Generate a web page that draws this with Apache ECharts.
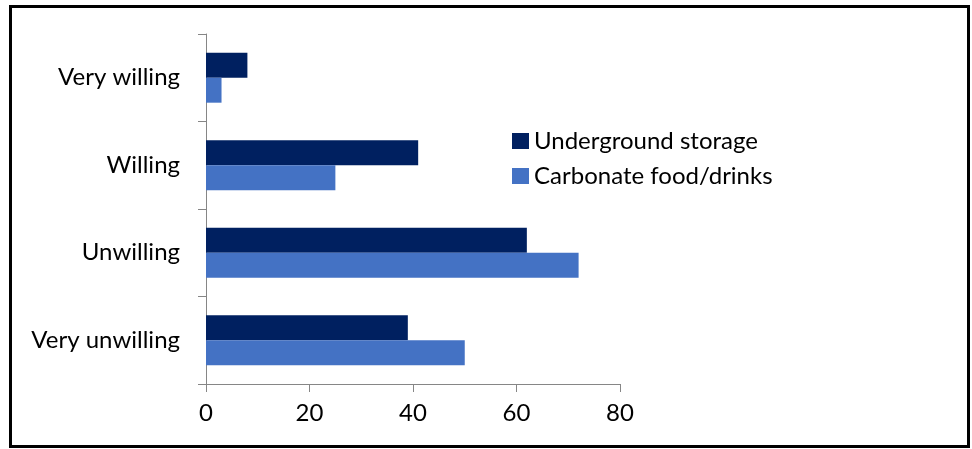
<!DOCTYPE html>
<html>
<head>
<meta charset="utf-8">
<script src="https://cdn.jsdelivr.net/npm/echarts@6/dist/echarts.min.js"></script>
<style>
  html, body { margin: 0; padding: 0; background: #fff; }
  #frame { position: absolute; left: 9px; top: 5px; width: 955px; height: 437px; border: 3px solid #000; }
  #chart { position: absolute; left: 0; top: 0; width: 972px; height: 449px; }
</style>
</head>
<body>
<div id="frame"></div>
<div id="chart"></div>
<script>
// willingness categories, top to bottom
const categories = ['Very willing', 'Willing', 'Unwilling', 'Very unwilling']
const undergroundStorage = [8, 41, 62, 39]
const carbonateFood = [3, 25, 72, 50]
const xTicks = [0, 20, 40, 60, 80]

const fontFamily = 'Lato, "Open Sans", sans-serif'

const myChart = echarts.init(document.getElementById('chart'), null, { renderer: 'canvas' })

const options = {
  backgroundColor: 'transparent',
  animation: false,
  textStyle: { fontFamily: fontFamily },
  grid: { left: 206, top: 34, width: 414, height: 350, containLabel: false },
  legend: {
    orient: 'vertical',
    left: 512,
    top: 129,
    padding: 0,
    itemWidth: 17,
    itemHeight: 16,
    itemGap: 11,
    icon: 'rect',
    textStyle: { fontSize: 24, color: '#000', fontFamily: fontFamily },
    data: ['Underground storage', 'Carbonate food/drinks']
  },
  xAxis: {
    type: 'value',
    min: xTicks[0],
    max: xTicks[xTicks.length - 1],
    interval: 20,
    axisLine: { show: true, lineStyle: { color: '#868686', width: 1 } },
    axisTick: { show: true, length: 8, lineStyle: { color: '#868686' } },
    splitLine: { show: false },
    axisLabel: { color: '#000', fontSize: 24, margin: 17 }
  },
  yAxis: {
    type: 'category',
    inverse: true,
    data: categories,
    axisLine: { show: true, lineStyle: { color: '#868686', width: 1 } },
    axisTick: { show: true, length: 8, alignWithLabel: false, lineStyle: { color: '#868686' } },
    axisLabel: { color: '#000', fontSize: 24, margin: 26 }
  },
  series: [{
    name: 'Underground storage',
    type: 'bar',
    data: undergroundStorage,
    itemStyle: { color: '#002060' },
    barGap: '0%',
    barCategoryGap: '43%'
  }, {
    name: 'Carbonate food/drinks',
    type: 'bar',
    data: carbonateFood,
    itemStyle: { color: '#4472C4' },
    barGap: '0%',
    barCategoryGap: '43%'
  }]
}

myChart.setOption(options)
</script>
</body>
</html>
